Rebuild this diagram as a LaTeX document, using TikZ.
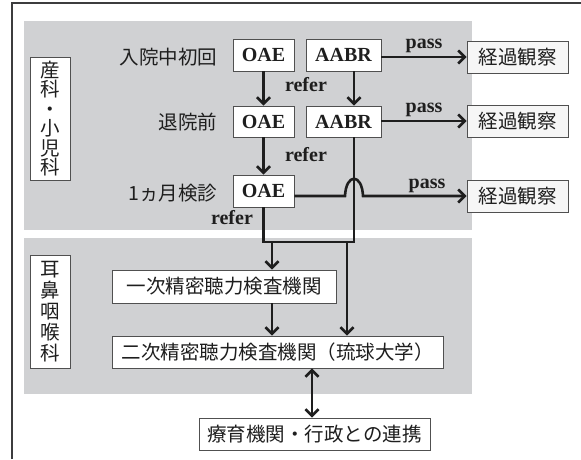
\documentclass[tikz,border=0pt]{standalone}
\usepackage{fontspec}
\setmainfont{Liberation Serif}
\newfontfamily\jp{Noto Sans CJK JP}
\usetikzlibrary{arrows.meta}
\definecolor{panel}{RGB}{208,209,211}
\definecolor{framec}{RGB}{60,60,62}
\definecolor{ink}{RGB}{30,30,30}
\definecolor{bord}{RGB}{80,80,80}
\definecolor{kkfill}{RGB}{246,246,246}
\begin{document}
\begin{tikzpicture}[x=1pt,y=-1pt,
  jpf/.style={font=\jp\fontsize{19.5}{20}\selectfont, text=ink},
  lat/.style={font=\fontsize{20}{20}\selectfont\bfseries, text=ink},
  bx/.style={draw=bord, line width=0.9pt, fill=white, inner sep=0pt, minimum height=32pt},
  conn/.style={draw=ink, line width=2.6pt},
  tip/.style={Straight Barb[length=6.5pt,width=13pt]},
  arr/.style={conn, -{Straight Barb[length=6.5pt,width=13pt]}},
  darr/.style={conn, {Straight Barb[length=6.5pt,width=13pt]}-{Straight Barb[length=6.5pt,width=13pt]}},
]
\useasboundingbox (0,0) rectangle (581,459);
\fill[white] (0,0) rectangle (581,459);
\draw[framec, line width=2pt] (12,459) -- (12,3) -- (581,3);
\fill[panel] (24,21) rectangle (472,230);
\fill[panel] (24,238) rectangle (472,394);

% side labels
\node[bx, jpf, minimum width=40pt, minimum height=123pt, align=center,
      font=\jp\fontsize{19.5}{19.5}\selectfont] (l1) at (50,118.5) {産\\科\\・\\小\\児\\科};
\node[bx, jpf, minimum width=40pt, minimum height=113pt, align=center,
      font=\jp\fontsize{19.5}{21}\selectfont] (l2) at (50,311.5) {耳\\鼻\\咽\\喉\\科};

% row labels
\node[jpf, anchor=east] (r1) at (221,57) {入院中初回};
\node[jpf, anchor=east] (r2) at (221,122) {退院前};
\node[jpf, anchor=east] (r3) at (221,193) {1ヵ月検診};

% test boxes
\node[bx, lat, minimum width=61pt] (oae1) at (263.5,55) {OAE};
\node[bx, lat, minimum width=75pt] (aabr1) at (343.5,55) {AABR};
\node[bx, lat, minimum width=61pt, minimum height=31pt] (oae2) at (263.5,121.5) {OAE};
\node[bx, lat, minimum width=75pt, minimum height=31pt] (aabr2) at (343.5,121.5) {AABR};
\node[bx, lat, minimum width=61pt] (oae3) at (263.5,191) {OAE};

% observation boxes
\node[bx, jpf, fill=kkfill, minimum width=101pt] (kk1) at (517.5,57) {経過観察};
\node[bx, jpf, fill=kkfill, minimum width=101pt] (kk2) at (517.5,121) {経過観察};
\node[bx, jpf, fill=kkfill, minimum width=101pt] (kk3) at (517.5,196) {経過観察};

% ENT boxes
\node[bx, jpf, minimum width=224pt, minimum height=33pt] (ichi) at (224,286.5) {一次精密聴力検査機関};
\node[bx, jpf, minimum width=331pt] (ni) at (277.5,352) {二次精密聴力検査機関（琉球大学）};
\node[bx, jpf, minimum width=231pt] (ryo) at (314.5,434) {療育機関・行政との連携};

% vertical refer arrows
\draw[arr] (oae1.south) -- (oae2.north);
\draw[arr] (oae2.south) -- (oae3.north);
\draw[arr] ([xshift=10.5pt]aabr1.south) -- ([xshift=10.5pt]aabr2.north);

% pass arrows
\draw[arr] (aabr1.east |- kk1) -- (kk1.west) node[midway, above, lat] (p1) {pass};
\draw[arr] (aabr2.east |- kk2) -- (kk2.west) node[midway, above, lat] (p2) {pass};
\draw[arr] (oae3.east |- kk3) -- (345,196) .. controls (346,173) and (362,173) .. (363,196) -- (kk3.west);
\node[lat, above] (p3) at (427,196) {pass};

% refer labels
\node[lat] (f1) at (306,85) {refer};
\node[lat] (f2) at (306,155) {refer};
\node[lat] (f3) at (232,218) {refer};

% merge loop
\coordinate (jl) at (oae3.south |- 0,242);
\coordinate (jr) at (354,242);
\draw[conn, line join=miter] (oae3.south) -- (jl) -- (jr) -- ([xshift=10.5pt]aabr2.south);
\draw[arr] (272,242) -- (ichi.north -| 272,0);
\draw[arr] (347,242) -- (ni.north -| 347,0);
\draw[arr] (ichi.south -| 272,0) -- (ni.north -| 272,0);
\draw[darr] (ni.south -| 312,0) -- (ryo.north -| 312,0);
\end{tikzpicture}
\end{document}
